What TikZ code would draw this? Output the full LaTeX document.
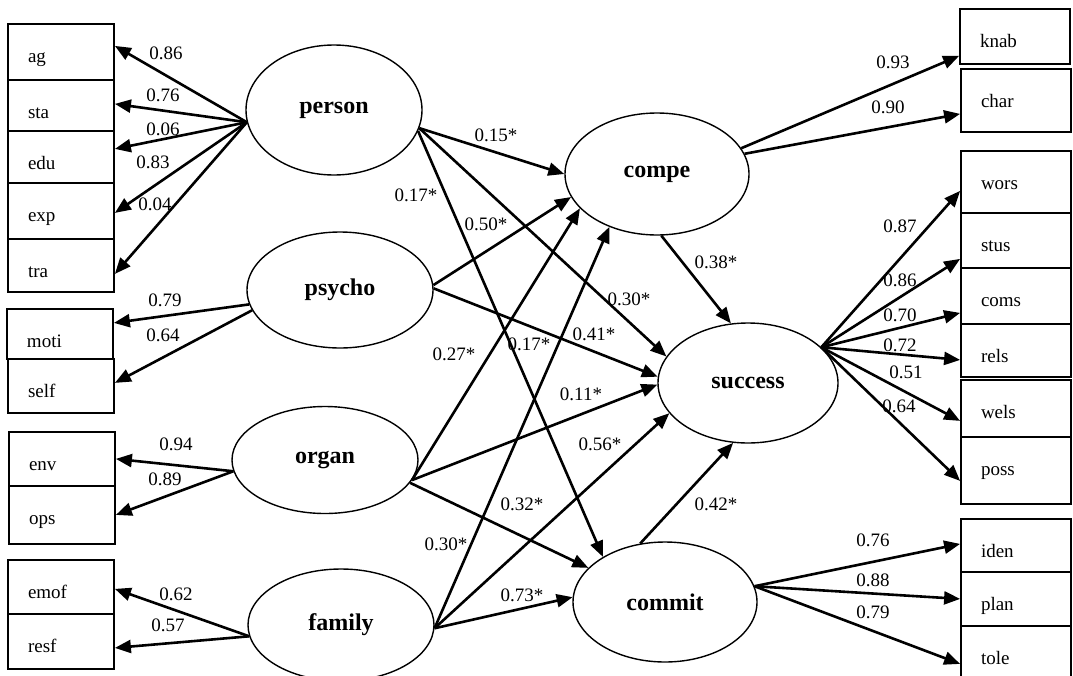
\documentclass[tikz,border=0pt]{standalone}
\usepackage{fontspec}
\setmainfont{Liberation Serif}
\usetikzlibrary{arrows.meta,shapes.geometric}
\tikzset{
	obs/.style={draw, line width=1.8pt, anchor=north, align=left, text width=66pt, inner xsep=20pt, inner ysep=0pt,
		text height=39pt, text depth=#1, font=\fontsize{19}{22}\selectfont},
	lat/.style={draw, ellipse, line width=1.4pt, inner sep=0pt, font=\fontsize{24}{28}\selectfont\bfseries},
	arr/.style={line width=2.6pt, -{Triangle[length=16pt,width=13pt]}},
	coef/.style={inner sep=0pt, font=\fontsize{19}{22}\selectfont}
}

\begin{document}
\begin{tikzpicture}[x=1pt, y=-1pt]
		\useasboundingbox (0,0) rectangle (1073,675);
		%%%%% LEFT BOXES %%%%%
		\node[obs=17pt] (ag) at (61,23) {ag};
		\node[obs=12pt] (sta) at (61,79) {sta};
		\node[obs=13pt] (edu) at (61,130) {edu};
		\node[obs=17pt] (exp) at (61,182) {exp};
		\node[obs=14pt] (tra) at (61,238) {tra};
		\node[obs=11pt] (moti) at (60,308) {moti};
		\node[obs=15pt] (self) at (61,358) {self};
		\node[obs=15pt] (env) at (62,431) {env};
		\node[obs=19pt] (ops) at (62,485) {ops};
		\node[obs=15pt] (emof) at (61,559) {emof};
		\node[obs=16pt] (resf) at (61,613) {resf};
		
		%%%%% RIGHT BOXES %%%%%
		\begin{scope}[obs/.append style={text width=70pt}]
		\node[obs=16pt] (knab) at (1015,8) {knab};
		\node[obs=24pt] (char) at (1016,68) {char};
		\node[obs=23pt] (wors) at (1016,150) {wors};
		\node[obs=16pt] (stus) at (1016,212) {stus};
		\node[obs=17pt] (coms) at (1016,267) {coms};
		\node[obs=14pt] (rels) at (1016,323) {rels};
		\node[obs=18pt] (wels) at (1016,379) {wels};
		\node[obs=28pt] (poss) at (1016,436) {poss};
		\node[obs=14pt] (iden) at (1016,518) {iden};
		\node[obs=15pt] (plan) at (1016,571) {plan};
		\node[obs=15pt] (tole) at (1016,625) {tole};
		\end{scope}
		
		%%%%% LATENT %%%%%
		\node[lat, minimum width=176pt, minimum height=130pt] (person) at (334,110) {person};
		\node[lat, minimum width=186pt, minimum height=116pt] (psycho) at (340,290) {psycho};
		\node[lat, minimum width=186pt, minimum height=107pt] (organ) at (325,460) {organ};
		\node[lat, minimum width=186pt, minimum height=112pt] (family) at (341,625) {family};
		\node[lat, minimum width=184pt, minimum height=122pt] (compe) at (657,174) {compe};
		\node[lat, minimum width=180pt, minimum height=120pt] (success) at (748,383) {success};
		\node[lat, minimum width=184pt, minimum height=120pt] (commit) at (665,602) {commit};
		
		%%%%% LOADINGS LEFT %%%%%
		\draw[arr] (person.188) -- ([yshift=6pt]ag.east);
		\draw[arr] (person.188) -- ([yshift=1.5pt]sta.east);
		\draw[arr] (person.188) -- ([yshift=8pt]edu.east);
		\draw[arr] (person.188) -- ([yshift=-2pt]exp.east);
		\draw[arr] (person.188) -- ([yshift=-8.5pt]tra.east);
		\draw[arr] (psycho.189) -- ([yshift=11pt]moti.east);
		\draw[arr] (psycho.193) -- ([yshift=3pt]self.east);
		\draw[arr] (organ.187) -- (env.east);
		\draw[arr] (organ.187) -- (ops.east);
		\draw[arr] (family.187) -- ([yshift=-2pt]emof.east);
		\draw[arr] (family.187) -- ([yshift=-6.5pt]resf.east);
		
		\node[coef] (c-ag) at (166,53) {0.86};
		\node[coef] (c-sta) at (163,95) {0.76};
		\node[coef] (c-edu) at (163,129) {0.06};
		\node[coef] (c-exp) at (153,162) {0.83};
		\node[coef] (c-tra) at (155,204) {0.04};
		\node[coef] (c-moti) at (165,300) {0.79};
		\node[coef] (c-self) at (163,335) {0.64};
		\node[coef] (c-env) at (176,444) {0.94};
		\node[coef] (c-ops) at (165,479) {0.89};
		\node[coef] (c-emof) at (176,594) {0.62};
		\node[coef] (c-resf) at (168,625) {0.57};
		
		%%%%% LOADINGS RIGHT %%%%%
		\draw[arr] (compe.17) -- ([yshift=-19.5pt]knab.west);
		\draw[arr] (compe.13) -- ([yshift=-13.5pt]char.west);
		\draw[arr] (success.26) -- ([yshift=-9pt]wors.west);
		\draw[arr] (success.26) -- ([yshift=-18.5pt]stus.west);
		\draw[arr] (success.26) -- ([yshift=-17pt]coms.west);
		\draw[arr] (success.26) -- ([yshift=-9.5pt]rels.west);
		\draw[arr] (success.26) -- ([yshift=-12.5pt]wels.west);
		\draw[arr] (success.26) -- ([yshift=-10.5pt]poss.west);
		\draw[arr] (commit.10) -- ([yshift=1.5pt]iden.west);
		\draw[arr] (commit.10) -- (plan.west);
		\draw[arr] (commit.10) -- ([yshift=-11pt]tole.west);
		
		\node[coef] (c-knab) at (893,62) {0.93};
		\node[coef] (c-char) at (888,107) {0.90};
		\node[coef] (c-wors) at (900,226) {0.87};
		\node[coef] (c-stus) at (900,280) {0.86};
		\node[coef] (c-coms) at (900,315) {0.70};
		\node[coef] (c-rels) at (900,345) {0.72};
		\node[coef] (c-wels) at (906,372) {0.51};
		\node[coef] (c-poss) at (899,406) {0.64};
		\node[coef] (c-iden) at (873,540) {0.76};
		\node[coef] (c-plan) at (873,580) {0.88};
		\node[coef] (c-tole) at (873,612) {0.79};
		
		%%%%% STRUCTURAL PATHS %%%%%
		\draw[arr] (person.348) -- (compe.180);
		\draw[arr] (person.348) -- (success.162);
		\draw[arr] (person.346) -- (commit.144);
		\draw[arr] (psycho.3) -- (compe.195);
		\draw[arr] (psycho.1) -- (success.176);
		\draw[arr] (organ.347) -- (compe.204);
		\draw[arr] (organ.347) -- (success.181);
		\draw[arr] (organ.345) -- (commit.156);
		\draw[arr] (family.358) -- (compe.228);
		\draw[arr] (family.358) -- (success.201);
		\draw[arr] (family.358) -- (commit.177);
		\draw[arr] (compe.274) -- (success.106);
		\draw[arr] (commit.113) -- (success.256);
		
		\node[coef] (c-pc) at (496,135) {0.15*};
		\node[coef] (c-pm) at (416,195) {0.17*};
		\node[coef] (c-yc) at (486,224) {0.50*};
		\node[coef] (c-ps) at (629,299) {0.30*};
		\node[coef] (c-ys) at (594,334) {0.41*};
		\node[coef] (c-cs) at (716,262) {0.38*};
		\node[coef] (c-oc) at (454,354) {0.27*};
		\node[coef] (c-fc) at (529,344) {0.17*};
		\node[coef] (c-os) at (581,394) {0.11*};
		\node[coef] (c-fs) at (600,444) {0.56*};
		\node[coef] (c-om) at (522,504) {0.32*};
		\node[coef] (c-ms) at (716,504) {0.42*};
		\node[coef] (c-fx) at (446,544) {0.30*};
		\node[coef] (c-fm) at (522,595) {0.73*};
		%%%%% END %%%%%
\end{tikzpicture}
\end{document}
